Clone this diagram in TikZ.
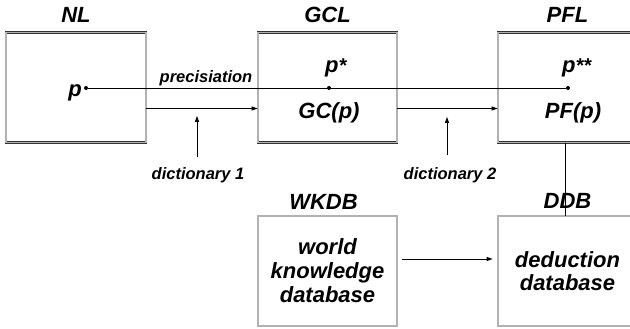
\documentclass[tikz,border=0pt]{standalone}
\usepackage{fontspec}
\setmainfont{Liberation Sans}
\usetikzlibrary{positioning,arrows.meta}

\begin{document}
\begin{tikzpicture}[x=1pt, y=-1pt,
  every node/.style = {inner sep=0pt, font=\bfseries\itshape},
  big/.style = {font=\fontsize{22}{24}\selectfont\bfseries\itshape},
  small/.style = {font=\fontsize{16.5}{18}\selectfont\bfseries\itshape},
  box/.style = {draw=black!80, double=gray!60, double distance=1.1pt,
    line width=0.7pt, minimum width=139pt, minimum height=110pt,
    align=center, big},
  dot/.style = {circle, fill, minimum size=4pt},
  arr/.style = {-{Triangle[length=6pt,width=4pt]}, line width=0.9pt}]
  \useasboundingbox (0,0) rectangle (630,329);
  \clip (0,0) rectangle (630,329);
  \node[box, minimum width=140pt] (nl) at (76,87.5) {};
  \node[box] (gcl) at (327.5,87.5) {};
  \node[box] (pfl) at (567.5,87.5) {};
  \node[box] (wkdb) at (327.5,271) {world\\knowledge\\database};
  \node[box, font=\fontsize{22}{23}\selectfont\bfseries\itshape] (ddb) at (567.5,271) {deduction\\database};
  \node[big, above=9pt of nl] (nltitle) {NL};
  \node[big, above=9pt of gcl] (gcltitle) {GCL};
  \node[big, above=9pt of pfl] (pfltitle) {PFL};
  \node[big, above=6pt of wkdb, xshift=-4pt] (wkdbtitle) {WKDB};
  \node[big, above=7pt of ddb] (ddbtitle) {DDB};
  \node[dot] (p) at (86,88) {};
  \node[dot] (pst) at (329,88) {};
  \node[dot] (pss) at (568,88) {};
  \node[big, anchor=base east] (plab) at ([xshift=-4pt,yshift=-9pt]p) {p};
  \node[big, anchor=base west] (pstlab) at ([xshift=-4pt,yshift=15pt]pst)
    {p\raisebox{0.5pt}{\fontsize{20}{20}\selectfont *}};
  \node[big, anchor=base west] (psslab) at ([xshift=-6pt,yshift=15pt]pss)
    {p\raisebox{0.5pt}{\fontsize{20}{20}\selectfont **}};
  \node[big, anchor=base] (gc) at (329,118) {GC(p)};
  \node[big, anchor=base] (pf) at (573,118) {PF(p)};
  \node[small, anchor=base] (prec) at (206,83) {precisiation};
  \node[small, anchor=base] (dict1) at (198,179) {dictionary 1};
  \node[small, anchor=base] (dict2) at (450,179) {dictionary 2};
  \draw[line width=0.9pt] (p) -- (pss);
  \draw[arr] ([yshift=-21pt]nl.east) -- ([yshift=-21pt]gcl.west);
  \draw[arr] ([yshift=-21pt]gcl.east) -- ([yshift=-21pt]pfl.west);
  \draw[arr] ([xshift=-1pt,yshift=10pt]dict1.north) -- ++(0,-41);
  \draw[arr] ([xshift=-3pt,yshift=12pt]dict2.north) -- ++(0,-38);
  \draw[arr, shorten <=5pt, shorten >=5pt] ([yshift=12pt]wkdb.east) -- ([yshift=12pt]ddb.west);
  \draw[line width=0.9pt] ([xshift=-2.5pt]pfl.south) -- ([xshift=-2.5pt]ddb.north);
\end{tikzpicture}
\end{document}
